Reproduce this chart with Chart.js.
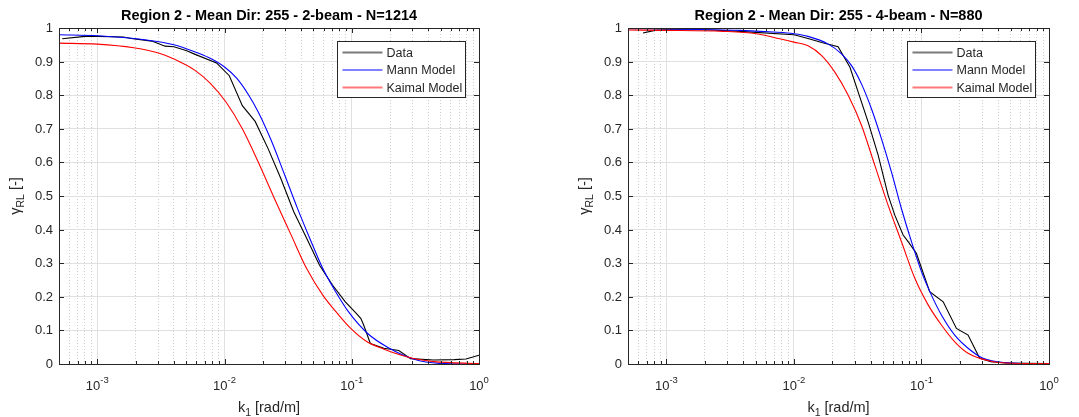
<!DOCTYPE html>
<html>
<head>
<meta charset="utf-8">
<title>Coherence gamma_RL</title>
<script src="https://cdn.jsdelivr.net/npm/chart.js@4.4.0/dist/chart.umd.min.js"></script>
<style>
  html, body { margin: 0; padding: 0; background: #fff; }
  .wrap { display: flex; width: 1079px; height: 417px; }
  canvas { display: block; }
</style>
</head>
<body>
<div class="wrap">
  <canvas id="left" width="540" height="417"></canvas>
  <canvas id="right" width="539" height="417"></canvas>
</div>
<script>
// --- Left panel: 2-beam, N=1214 ---
const kData2 = [0.00053, 0.0008, 0.001, 0.0016, 0.0019, 0.00268, 0.00341, 0.0040, 0.00505, 0.00575, 0.00865, 0.0109, 0.0138, 0.0174, 0.022, 0.0277, 0.035, 0.0442, 0.0558, 0.0705, 0.089, 0.109, 0.118, 0.124, 0.140, 0.179, 0.234, 0.29, 0.44, 0.64, 0.79, 1.0];
const gData2 = [0.968, 0.975, 0.975, 0.973, 0.968, 0.961, 0.946, 0.944, 0.932, 0.923, 0.896, 0.858, 0.769, 0.722, 0.641, 0.552, 0.453, 0.374, 0.294, 0.235, 0.185, 0.150, 0.135, 0.116, 0.061, 0.047, 0.040, 0.016, 0.012, 0.013, 0.015, 0.026];
const kMann2 = [0.0005, 0.001, 0.0026, 0.0040, 0.00575, 0.0075, 0.01, 0.0125, 0.0155, 0.0184, 0.0233, 0.0294, 0.0371, 0.0469, 0.0592, 0.0747, 0.0944, 0.134, 0.191, 0.305, 0.49, 1.0];
const gMann2 = [0.980, 0.977, 0.963, 0.950, 0.930, 0.912, 0.884, 0.850, 0.800, 0.750, 0.665, 0.567, 0.467, 0.373, 0.284, 0.215, 0.155, 0.090, 0.050, 0.015, 0.002, 0.000];
const kKaimal2 = [0.0005, 0.001, 0.00193, 0.00311, 0.00448, 0.00575, 0.0077, 0.0103, 0.0138, 0.0184, 0.0247, 0.033, 0.0442, 0.0592, 0.0793, 0.1, 0.132, 0.179, 0.242, 0.328, 0.443, 1.0];
const gKaimal2 = [0.955, 0.952, 0.941, 0.924, 0.899, 0.876, 0.836, 0.779, 0.700, 0.601, 0.492, 0.388, 0.284, 0.205, 0.145, 0.103, 0.066, 0.044, 0.027, 0.014, 0.007, 0.001];

// --- Right panel: 4-beam, N=880 ---
const kData4 = [0.000656, 0.00081, 0.001, 0.00206, 0.00376, 0.01, 0.0129, 0.0165, 0.0222, 0.0275, 0.0319, 0.0382, 0.0458, 0.0548, 0.0618, 0.0718, 0.0786, 0.0914, 0.116, 0.148, 0.188, 0.232, 0.286, 0.35, 0.46, 1.0];
const gData4 = [0.985, 0.993, 0.995, 0.995, 0.990, 0.980, 0.969, 0.957, 0.944, 0.883, 0.809, 0.720, 0.621, 0.502, 0.443, 0.384, 0.364, 0.329, 0.215, 0.185, 0.106, 0.086, 0.017, 0.007, 0.003, 0.001];
const kMann4 = [0.0005, 0.001, 0.00376, 0.00684, 0.01, 0.0129, 0.0186, 0.0236, 0.0283, 0.0339, 0.0406, 0.0486, 0.0582, 0.0697, 0.0835, 0.1, 0.1197, 0.1434, 0.1824, 0.232, 0.304, 0.463, 1.0];
const gMann4 = [0.998, 0.997, 0.993, 0.988, 0.983, 0.975, 0.952, 0.923, 0.888, 0.833, 0.759, 0.670, 0.571, 0.462, 0.364, 0.275, 0.205, 0.146, 0.086, 0.047, 0.017, 0.004, 0.000];
const kKaimal4 = [0.0005, 0.001, 0.00278, 0.00507, 0.00773, 0.01, 0.0129, 0.0165, 0.021, 0.0267, 0.0339, 0.0431, 0.0548, 0.0697, 0.0887, 0.1128, 0.1434, 0.1824, 0.232, 0.343, 0.463, 1.0];
const gKaimal4 = [0.994, 0.993, 0.990, 0.983, 0.968, 0.958, 0.947, 0.918, 0.868, 0.799, 0.710, 0.591, 0.472, 0.364, 0.255, 0.176, 0.116, 0.066, 0.032, 0.009, 0.003, 0.001];

// --- Axis ticks / labels ---
const yTicks = [0, 0.1, 0.2, 0.3, 0.4, 0.5, 0.6, 0.7, 0.8, 0.9, 1];
const yTickLabels = ['0', '0.1', '0.2', '0.3', '0.4', '0.5', '0.6', '0.7', '0.8', '0.9', '1'];
const xDecades = [-3, -2, -1, 0];
const seriesNames = ['Data', 'Mann Model', 'Kaimal Model'];

const FONT = '"Liberation Sans", Arial, Helvetica, sans-serif';
const AXIS_COL = '#262626';

// minor + major log grid values between 5e-4 and 1
const xGridValues = [];
for (let e = -4; e <= -1; e++) {
  for (let m = 1; m <= 9; m++) {
    const v = m * Math.pow(10, e);
    if (v >= 0.0005 - 1e-12) xGridValues.push(v);
  }
}
xGridValues.push(1);

function isDecade(v) {
  const l = Math.log10(v);
  return Math.abs(l - Math.round(l)) < 1e-6;
}

function pairs(ks, gs) {
  return ks.map((k, i) => ({ x: k, y: gs[i] }));
}

// draws box, inward ticks, labels, title and legend the way MATLAB does
const matlabAxes = {
  id: 'matlabAxes',
  afterDatasetsDraw(chart, args, opts) {
    const { ctx, chartArea: a, scales: { x, y } } = chart;
    ctx.save();

    // tick marks pointing inward
    ctx.strokeStyle = AXIS_COL;
    ctx.lineWidth = 1;
    ctx.beginPath();
    yTicks.forEach(v => {
      const py = Math.round(y.getPixelForValue(v)) + 0.5;
      ctx.moveTo(a.left, py); ctx.lineTo(a.left + 5, py);
      ctx.moveTo(a.right, py); ctx.lineTo(a.right - 5, py);
    });
    xGridValues.forEach(v => {
      const px = Math.round(x.getPixelForValue(v)) + 0.5;
      const len = isDecade(v) ? 5 : 3;
      ctx.moveTo(px, a.bottom); ctx.lineTo(px, a.bottom - len);
      ctx.moveTo(px, a.top); ctx.lineTo(px, a.top + len);
    });
    ctx.stroke();

    // box
    ctx.strokeRect(Math.round(a.left) + 0.5, Math.round(a.top) + 0.5,
      Math.round(a.right - a.left), Math.round(a.bottom - a.top));

    // y tick labels
    ctx.fillStyle = AXIS_COL;
    ctx.font = '13px ' + FONT;
    ctx.textAlign = 'right';
    ctx.textBaseline = 'middle';
    yTicks.forEach((v, i) => {
      ctx.fillText(yTickLabels[i], a.left - 6, y.getPixelForValue(v) + 0.5);
    });

    // x tick labels 10^n
    ctx.textAlign = 'left';
    ctx.textBaseline = 'alphabetic';
    xDecades.forEach(e => {
      const px = x.getPixelForValue(Math.pow(10, e));
      ctx.font = '13px ' + FONT;
      const wb = ctx.measureText('10').width;
      const sup = e === 0 ? '0' : '-' + Math.abs(e);
      ctx.font = '9.5px ' + FONT;
      const ws = ctx.measureText(sup).width;
      const x0 = px - (wb + ws) / 2;
      ctx.font = '13px ' + FONT;
      ctx.fillText('10', x0, a.bottom + 26);
      ctx.font = '9.5px ' + FONT;
      ctx.fillText(sup, x0 + wb, a.bottom + 19);
    });

    // x axis title: k_1 [rad/m]
    const cx = (a.left + a.right) / 2;
    ctx.font = '14.5px ' + FONT;
    const wk = ctx.measureText('k').width;
    const wr = ctx.measureText(' [rad/m]').width;
    ctx.font = '10.5px ' + FONT;
    const w1 = ctx.measureText('1').width;
    let tx = cx - (wk + w1 + wr) / 2;
    ctx.font = '14.5px ' + FONT;
    ctx.fillText('k', tx, a.bottom + 48);
    ctx.font = '10.5px ' + FONT;
    ctx.fillText('1', tx + wk, a.bottom + 52);
    ctx.font = '14.5px ' + FONT;
    ctx.fillText(' [rad/m]', tx + wk + w1, a.bottom + 48);

    // y axis title: gamma_RL [-]
    const cy = (a.top + a.bottom) / 2;
    ctx.translate(a.left - 39, cy);
    ctx.rotate(-Math.PI / 2);
    ctx.font = '14.5px ' + FONT;
    const wg = ctx.measureText('\u03B3').width;
    const wd = ctx.measureText(' [-]').width;
    ctx.font = '10.5px ' + FONT;
    const wRL = ctx.measureText('RL').width;
    tx = -(wg + wRL + wd) / 2;
    ctx.font = '14.5px ' + FONT;
    ctx.fillText('\u03B3', tx, 0);
    ctx.font = '10.5px ' + FONT;
    ctx.fillText('RL', tx + wg, 4);
    ctx.font = '14.5px ' + FONT;
    ctx.fillText(' [-]', tx + wg + wRL, 0);
    ctx.setTransform(1, 0, 0, 1, 0, 0);

    // title
    ctx.fillStyle = '#000';
    ctx.font = 'bold 14.5px ' + FONT;
    ctx.textAlign = 'center';
    ctx.fillText(opts.title, cx, a.top - 8);

    // legend
    const lw = 128, lh = 56;
    const lx = Math.round(a.right - 14 - lw) + 0.5, ly = Math.round(a.top + 13) + 0.5;
    ctx.fillStyle = '#fff';
    ctx.fillRect(lx, ly, lw, lh);
    ctx.strokeStyle = AXIS_COL;
    ctx.lineWidth = 1;
    ctx.strokeRect(lx, ly, lw, lh);
    const legendLines = [['#7a7a7a', 2.2], ['#0000ff', 1.2], ['#ff7878', 2.2]];
    ctx.textAlign = 'left';
    ctx.textBaseline = 'middle';
    ctx.font = '12.5px ' + FONT;
    seriesNames.forEach((name, i) => {
      const ry = ly + 11 + i * 17.5;
      ctx.strokeStyle = legendLines[i][0];
      ctx.lineWidth = legendLines[i][1];
      ctx.beginPath();
      ctx.moveTo(lx + 5, ry); ctx.lineTo(lx + 45, ry);
      ctx.stroke();
      ctx.fillStyle = AXIS_COL;
      ctx.fillText(name, lx + 49, ry + 1);
    });

    ctx.restore();
  }
};

function makeChart(id, title, data, mann, kaimal, padLeft, padRight) {
  return new Chart(document.getElementById(id).getContext('2d'), {
    type: 'scatter',
    data: {
      datasets: [
        { label: seriesNames[0], data: data, showLine: true, borderColor: '#000000', borderWidth: 1.1, pointRadius: 0, tension: 0, order: 3 },
        { label: seriesNames[1], data: mann, showLine: true, borderColor: '#0000ff', borderWidth: 1.1, pointRadius: 0, cubicInterpolationMode: 'monotone', order: 2 },
        { label: seriesNames[2], data: kaimal, showLine: true, borderColor: '#ff0000', borderWidth: 1.1, pointRadius: 0, cubicInterpolationMode: 'monotone', order: 1 }
      ]
    },
    options: {
      responsive: false,
      animation: false,
      layout: { padding: { left: padLeft, right: padRight, top: 28, bottom: 53 } },
      plugins: {
        legend: { display: false },
        tooltip: { enabled: false },
        matlabAxes: { title: title }
      },
      scales: {
        x: {
          type: 'logarithmic',
          min: 0.0005,
          max: 1,
          afterBuildTicks: axis => { axis.ticks = xGridValues.map(v => ({ value: v, major: isDecade(v) })); },
          ticks: { display: false },
          grid: {
            drawTicks: false,
            lineWidth: 1,
            color: c => (c.tick && isDecade(c.tick.value)) ? '#e0e0e0' : '#cdcdcd'
          },
          border: { display: false, dash: c => (c.tick && isDecade(c.tick.value)) ? [] : [1, 2] }
        },
        y: {
          type: 'linear',
          min: 0,
          max: 1,
          afterBuildTicks: axis => { axis.ticks = yTicks.map(v => ({ value: v })); },
          ticks: { display: false },
          grid: { drawTicks: false, lineWidth: 1, color: '#e0e0e0' },
          border: { display: false }
        }
      }
    },
    plugins: [matlabAxes]
  });
}

makeChart('left', 'Region 2 - Mean Dir: 255 - 2-beam - N=1214',
  pairs(kData2, gData2), pairs(kMann2, gMann2), pairs(kKaimal2, gKaimal2), 59, 61);
makeChart('right', 'Region 2 - Mean Dir: 255 - 4-beam - N=880',
  pairs(kData4, gData4), pairs(kMann4, gMann4), pairs(kKaimal4, gKaimal4), 88, 30);
</script>
</body>
</html>
